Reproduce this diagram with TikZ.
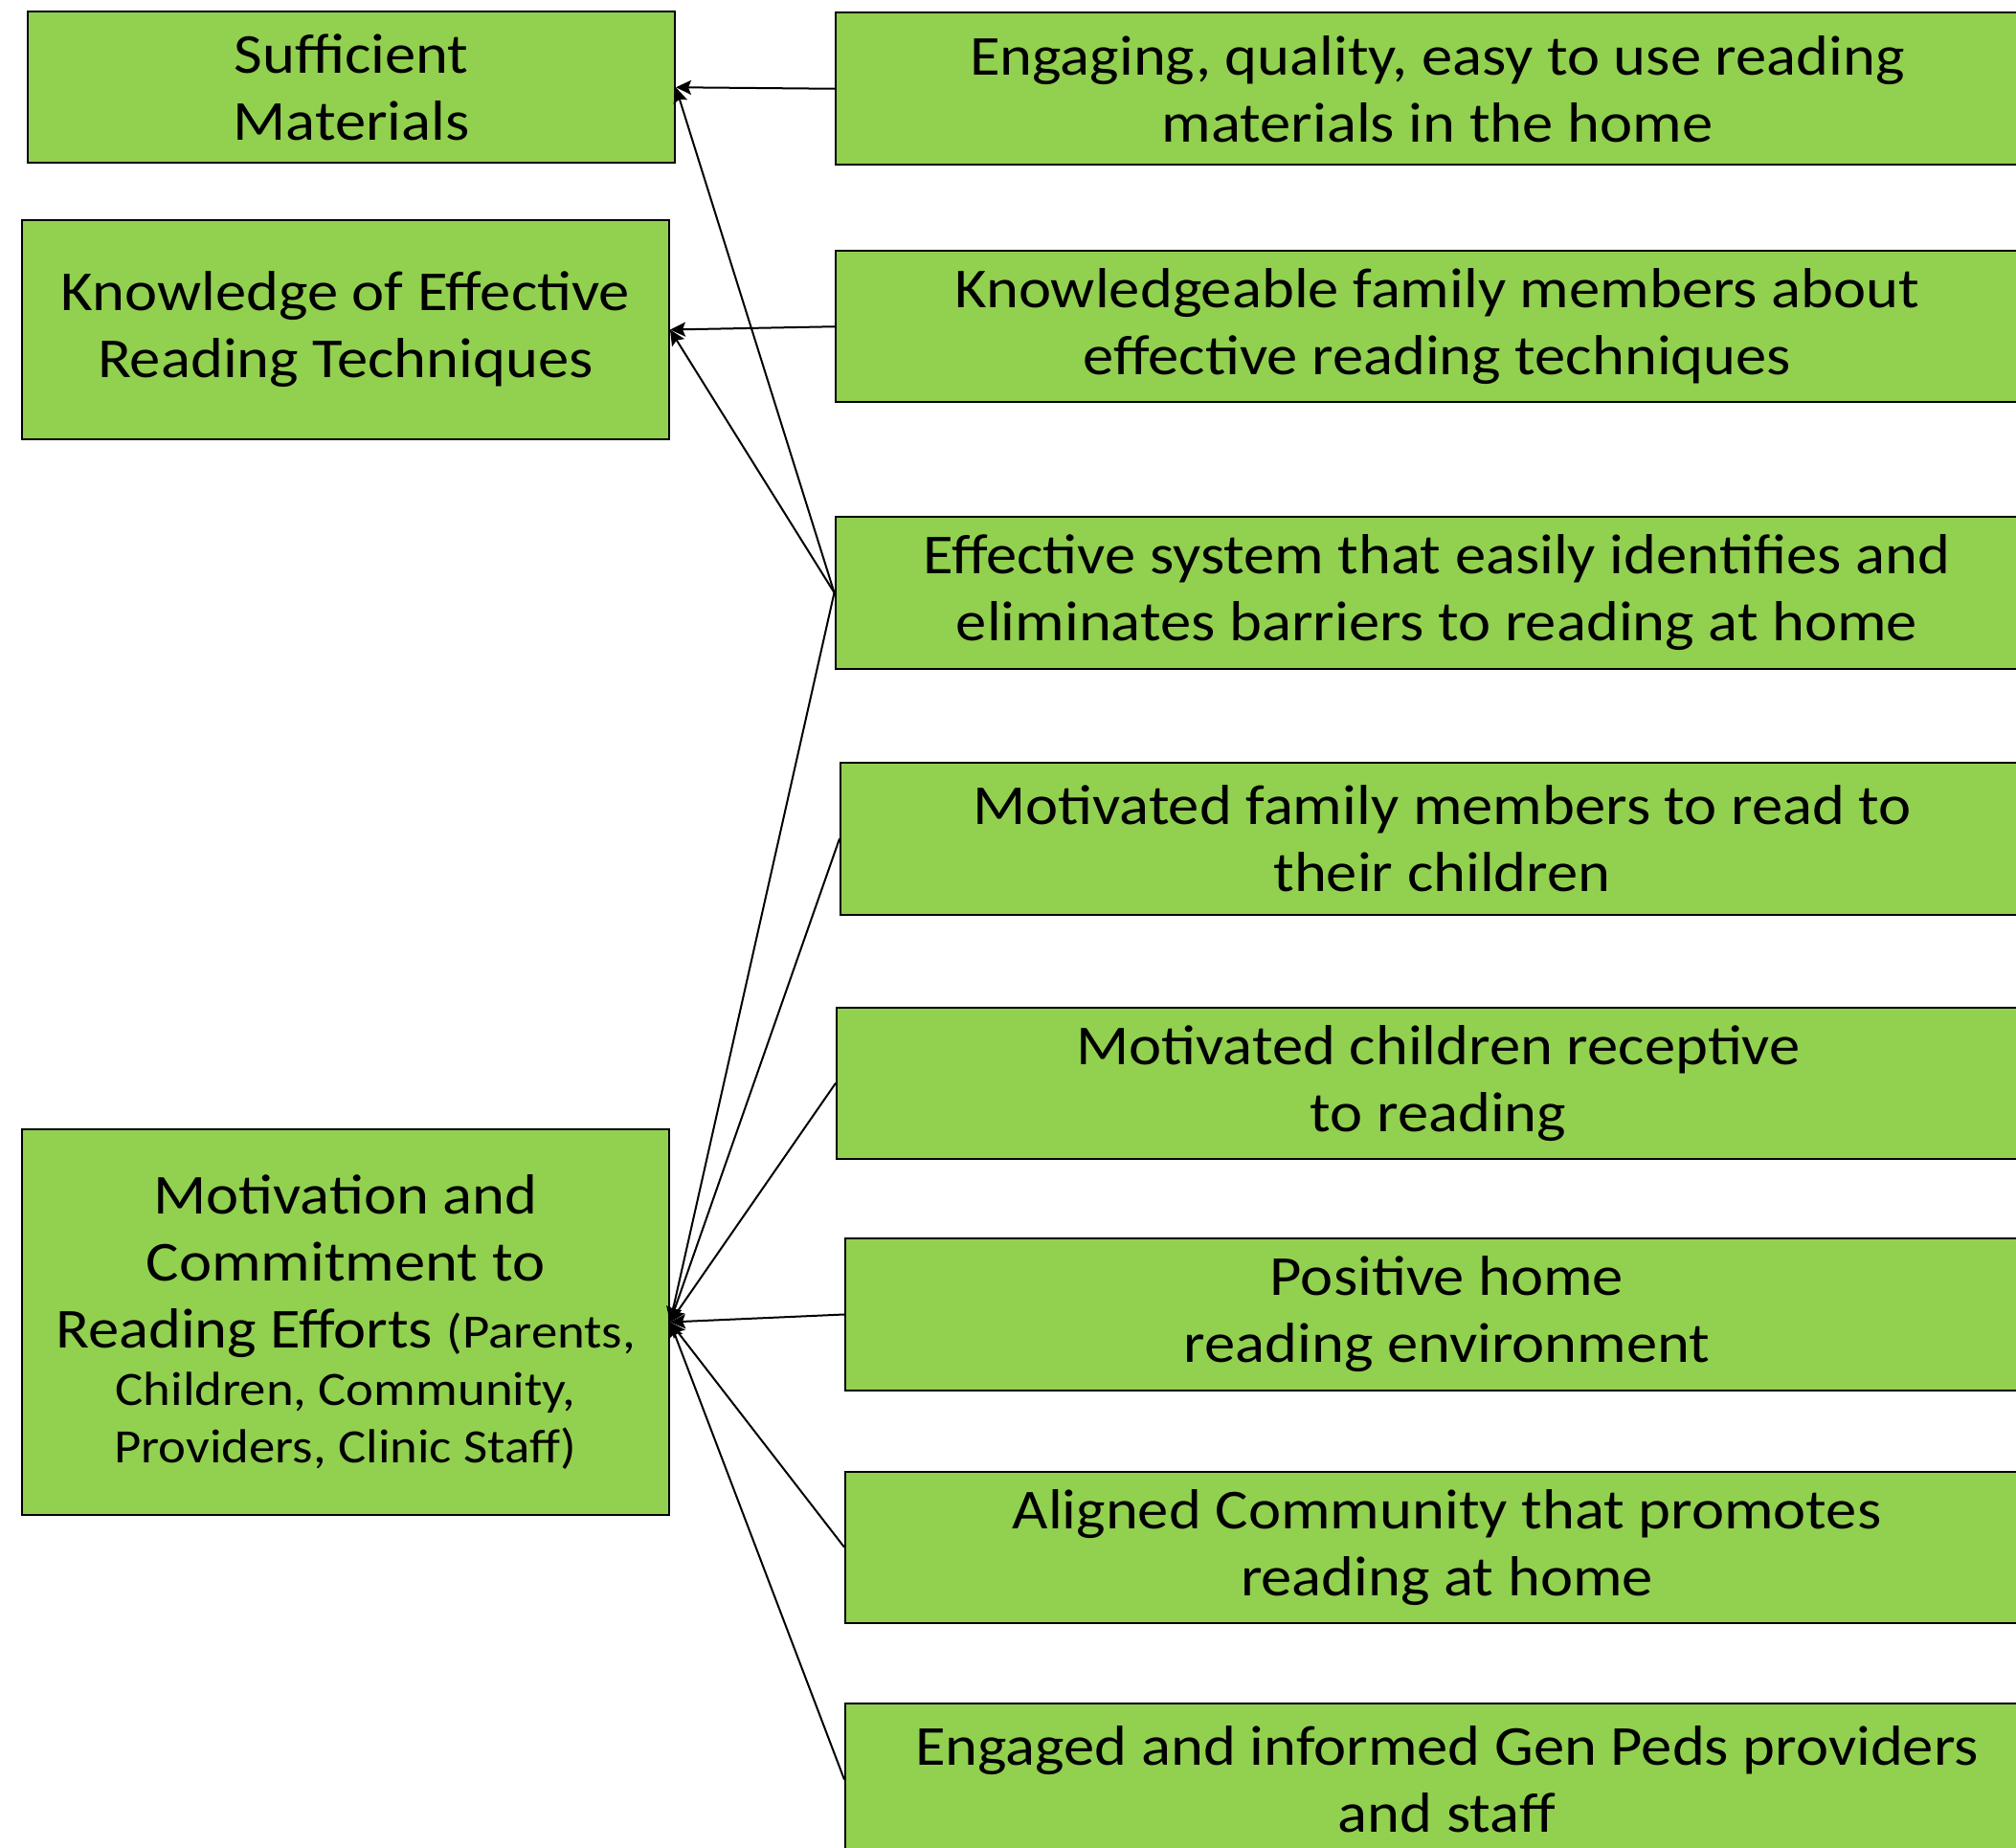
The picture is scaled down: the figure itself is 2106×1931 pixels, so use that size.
\documentclass[tikz,border=0pt]{standalone}
\usepackage{fontspec}
\setmainfont{Carlito}[FakeStretch=1.095]
\usetikzlibrary{arrows.meta}
\definecolor{boxgreen}{HTML}{92D050}
\newcommand{\smalltxt}{\fontsize{25}{30}\selectfont}
\begin{document}
\begin{tikzpicture}[x=0.5pt,y=-0.5pt,
  box/.style={draw=black, line width=1pt, fill=boxgreen, align=center, inner sep=0pt,
    font=\fontsize{29.5}{35}\selectfont},
  lbox/.style={box, minimum width=338pt},
  rbox/.style={box, minimum width=628.5pt, minimum height=79.25pt},
  conn/.style={line width=1pt, -{Stealth[length=8pt,width=7.5pt,inset=1.5pt]}}]
\useasboundingbox (0,0) rectangle (2106,1931);
\clip (0,0) rectangle (2106,1931);
\fill[white] (0,0) rectangle (2106,1931);

\node[lbox, minimum height=79.25pt] (b1) at (367,91.25) {Sufficient\\Materials};
\node[lbox, minimum height=114.5pt] (b2) at (361,344.5) {Knowledge of Effective\\Reading Techniques};
\node[lbox, minimum height=201.5pt] (b3) at (361,1381.5)
  {Motivation and\\Commitment to\\Reading Efforts {\smalltxt(Parents,}\\[-5pt]{\smalltxt Children, Community,}\\[-5pt]{\smalltxt Providers, Clinic Staff)}};

\node[rbox] (r1) at (1501.5,92.75) {Engaging, quality, easy to use reading\\materials in the home};
\node[rbox] (r2) at (1501.5,341.25) {Knowledgeable family members about\\effective reading techniques};
\node[rbox] (r3) at (1501,619.25) {Effective system that easily identifies and\\eliminates barriers to reading at home};
\node[rbox] (r4) at (1506.5,876.3) {Motivated family members to read to\\their children};
\node[rbox] (r5) at (1502.5,1131.75) {Motivated children receptive\\to reading};
\node[rbox] (r6) at (1511.5,1373.5) {Positive home\\reading environment};
\node[rbox] (r7) at (1511.5,1616.75) {Aligned Community that promotes\\reading at home};
\node[rbox] (r8) at (1511.5,1859.5) {Engaged and informed Gen Peds providers\\and staff};

\draw[conn] (r1.west) -- (b1.east);
\draw[conn] (r3.west) -- (b1.east);
\draw[conn] (r2.west) -- (b2.east);
\draw[conn] (r3.west) -- (b2.east);
\draw[conn] (r3.west) -- (b3.east);
\draw[conn] (r4.west) -- (b3.east);
\draw[conn] (r5.west) -- (b3.east);
\draw[conn] (r6.west) -- (b3.east);
\draw[conn] (r7.west) -- (b3.east);
\draw[conn] (r8.west) -- (b3.east);
\end{tikzpicture}
\end{document}
